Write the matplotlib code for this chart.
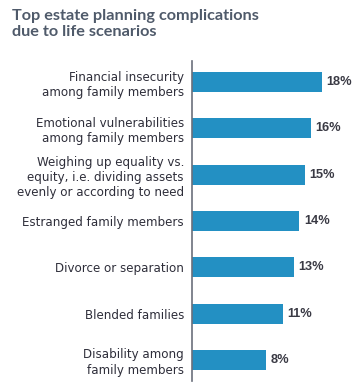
import numpy as np
import matplotlib
matplotlib.use("Agg")
import matplotlib.pyplot as plt

categories = [
    "Financial insecurity\namong family members",
    "Emotional vulnerabilities\namong family members",
    "Weighing up equality vs.\nequity, i.e. dividing assets\nevenly or according to need",
    "Estranged family members",
    "Divorce or separation",
    "Blended families",
    "Disability among\nfamily members",
]
values = [18, 16, 15, 14, 13, 11, 8]
value_labels = ["18%", "16%", "15%", "14%", "13%", "11%", "8%"]
title = "Top estate planning complications\ndue to life scenarios"

BASE = 5.2  # visual offset of bar origin
W, H = 363, 389
fig = plt.figure(figsize=(W / 100, H / 100), dpi=100)
fig.patch.set_facecolor("white")

ax_left, ax_right = 192.3, 355
ax_top, ax_bottom = 61, 381
ax = fig.add_axes([ax_left / W, 1 - ax_bottom / H, (ax_right - ax_left) / W, (ax_bottom - ax_top) / H])

y = np.arange(len(values))
vals = np.array(values, dtype=float)
ax.barh(y, vals + BASE, left=-BASE, height=0.43, color="#2390C3")

px_per = (321.7 - ax_left) / (18 + BASE)
ax.set_xlim(-BASE, -BASE + (ax_right - ax_left) / px_per)
spacing = 46.3
ax.set_ylim(len(values) - 1 + (381 - 360) / spacing, -(82 - 61) / spacing)

for s in ["top", "right", "bottom"]:
    ax.spines[s].set_visible(False)
ax.spines["left"].set_color("#6b6f7b")
ax.spines["left"].set_linewidth(1.2)
ax.spines["left"].set_position(("data", -BASE))
ax.set_xticks([])
ax.set_yticks(y)
ax.set_yticklabels(categories, fontsize=8.6, color="#2e2e3a", linespacing=1.22)
ax.tick_params(axis="y", length=0, pad=6)

for yi, v, lab in zip(y, vals, value_labels):
    ax.text(v + 0.8, yi, lab, va="center", ha="left", fontsize=9.2,
            fontweight="bold", color="#3a3a44", family="Liberation Sans")

fig.text(12 / W, 1 - 9 / H, title, ha="left", va="top", fontsize=11.7,
         fontweight="bold", color="#4f5a6a", linespacing=1.2, family="Lato")

fig.savefig("out.png", dpi=100, facecolor="white")
